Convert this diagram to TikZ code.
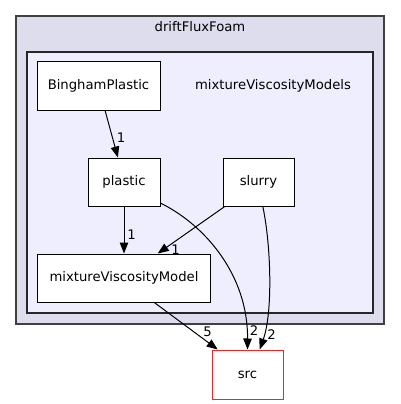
\documentclass[tikz,border=0pt]{standalone}
\usepackage{fontspec}
\setmainfont{DejaVu Sans}
\usetikzlibrary{arrows.meta}
\definecolor{outerfill}{HTML}{DDDDEE}
\definecolor{innerfill}{HTML}{EEEEFF}
\definecolor{clusterline}{HTML}{404040}
\definecolor{srcline}{HTML}{FF2020}

\begin{document}
\begin{tikzpicture}[x=1pt,y=-1pt,
    font=\fontsize{13.2}{15}\selectfont,
    dirbox/.style={draw=black,fill=white,line width=1pt,inner sep=0pt,minimum height=48pt},
    dep/.style={-{Triangle[length=11pt,width=8.5pt]},line width=1pt},
    cnt/.style={inner sep=0pt}]
      \useasboundingbox (0,0) rectangle (400,404);
      \draw[fill=outerfill,draw=clusterline,line width=1.6pt] (16,16) rectangle (384,324);
      \node (outertitle) at (200,27) {driftFluxFoam};
      \draw[fill=innerfill,draw=black!85,line width=1.4pt] (27,52) rectangle (373,313);
      \node (innertitle) at (273,86) {mixtureViscosityModels};
      \node[dirbox,minimum width=123pt] (bingham) at (98.5,86) {BinghamPlastic};
      \node[dirbox,minimum width=72pt] (plastic) at (124,182) {plastic};
      \node[dirbox,minimum width=71pt] (slurry) at (258.5,182) {slurry};
      \node[dirbox,minimum width=173pt] (mixture) at (124,278) {mixtureViscosityModel};
      \node[dirbox,draw=srcline,minimum width=71pt,minimum height=49pt] (src) at (247.5,374.5) {src};
      \draw[dep] (bingham.-75) -- (plastic.104);
      \draw[dep] (plastic) -- (mixture);
      \draw[dep] (slurry.-144) -- (mixture.36);
      \draw[dep] (mixture.-39) -- (src.140);
      \draw[dep] (plastic.-30) .. controls (205,225) and (248,275) .. (src.north);
      \draw[dep] (slurry.-80) .. controls (271,245) and (273,312) .. (src.64);
      \node[cnt] (n1) at (121,138) {1};
      \node[cnt] (n2) at (131.5,235) {1};
      \node[cnt] (n3) at (175.5,250) {1};
      \node[cnt] (n4) at (207.5,331.5) {5};
      \node[cnt] (n5) at (254,330.5) {2};
      \node[cnt] (n6) at (271.5,335) {2};
    \end{tikzpicture}
\end{document}
